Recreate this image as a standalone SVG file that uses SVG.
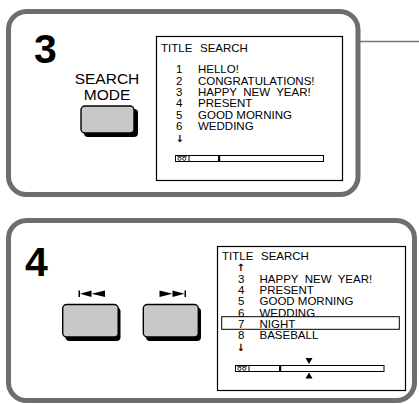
<svg xmlns="http://www.w3.org/2000/svg" width="419" height="404" viewBox="0 0 419 404">
<defs>
<style>
.panel{fill:#fff;stroke:#6e6e6e;stroke-width:5}
.screen{fill:#fff;stroke:#000;stroke-width:1.2}
.t{font-family:"Liberation Sans",Arial,sans-serif;font-size:11.5px;fill:#000}
.arr{font-family:"DejaVu Sans","Liberation Sans",sans-serif;font-size:10px;font-weight:bold;fill:#000}
.big{font-family:"Liberation Sans",Arial,sans-serif;font-weight:bold;font-size:41px;fill:#000}
.lbl{font-family:"Liberation Sans",Arial,sans-serif;font-size:15.5px;fill:#000}
.btn{fill:#c8c8c8;stroke:#000;stroke-width:1.4}
.shadow{fill:#000}
.bar{fill:#fff;stroke:#000;stroke-width:1}
.conn{stroke:#777;stroke-width:1.6;fill:none}
</style>
</defs>
<rect width="419" height="404" fill="#fff"/>
<g id="connectors">
<line class="conn" x1="360" y1="41.5" x2="419" y2="41.5"/>
</g>
<g id="panel3">
<rect class="panel" x="8.5" y="11.5" width="349.5" height="183" rx="18"/>
<text class="big" x="34" y="63">3</text>
<text class="lbl" x="107" y="84" text-anchor="middle">SEARCH</text>
<text class="lbl" x="107" y="100" text-anchor="middle">MODE</text>
<g id="search-mode-button">
<rect class="shadow" x="84" y="109" width="54" height="28" rx="4"/>
<rect class="btn" x="81" y="106" width="53" height="27" rx="4"/>
</g>
<g id="screen3">
<rect class="screen" x="156.5" y="36.5" width="186" height="144"/>
<text class="t" x="161" y="52">TITLE</text>
<text class="t" x="200" y="52">SEARCH</text>
<text class="t" x="176" y="73.3">1</text><text class="t" x="198" y="73.3">HELLO!</text>
<text class="t" x="176" y="84.7">2</text><text class="t" x="198" y="84.7">CONGRATULATIONS!</text>
<text class="t" x="176" y="96">3</text><text class="t" x="198" y="96" xml:space="preserve">HAPPY  NEW  YEAR!</text>
<text class="t" x="176" y="107.3">4</text><text class="t" x="198" y="107.3">PRESENT</text>
<text class="t" x="176" y="118.7">5</text><text class="t" x="198" y="118.7">GOOD MORNING</text>
<text class="t" x="176" y="130">6</text><text class="t" x="198" y="130">WEDDING</text>
<text class="arr" x="175.5" y="141.5">↓</text>
<rect class="bar" x="175.5" y="155.5" width="148" height="6"/>
<line x1="189" y1="155.5" x2="189" y2="161.5" stroke="#000" stroke-width="1"/>
<circle cx="179.5" cy="158.8" r="1.6" fill="none" stroke="#000" stroke-width="0.8"/>
<circle cx="184.3" cy="158.8" r="1.6" fill="none" stroke="#000" stroke-width="0.8"/>
<line x1="177" y1="156.6" x2="187" y2="156.6" stroke="#000" stroke-width="0.7"/>
<rect x="218" y="155.5" width="2.2" height="6" fill="#000"/>
</g>
</g>
<g id="panel4">
<rect class="panel" x="8.5" y="220.5" width="406" height="180" rx="18"/>
<text class="big" x="25" y="276">4</text>
<g id="prev-button">
<polygon points="78.5,290.5 80,290.5 80,297 78.5,297" fill="#000"/>
<polygon points="80,293.7 91.5,290.5 91.5,297" fill="#000"/>
<polygon points="91.5,293.7 105,290.5 105,297" fill="#000"/>
<rect class="shadow" x="65.5" y="307.5" width="55" height="33.5" rx="4"/>
<rect class="btn" x="62.7" y="304.5" width="55.5" height="32.5" rx="4"/>
</g>
<g id="next-button">
<polygon points="159.5,290.5 172.5,293.7 159.5,297" fill="#000"/>
<polygon points="172.5,290.5 184.5,293.7 172.5,297" fill="#000"/>
<polygon points="184.5,290.5 186,290.5 186,297 184.5,297" fill="#000"/>
<rect class="shadow" x="146" y="307.5" width="55" height="33.5" rx="4"/>
<rect class="btn" x="143.3" y="304.5" width="55" height="32.5" rx="4"/>
</g>
<g id="screen4">
<rect class="screen" x="217.5" y="246.5" width="188" height="144"/>
<text class="t" x="222" y="260">TITLE</text>
<text class="t" x="261" y="260">SEARCH</text>
<text class="arr" x="236.5" y="271">↑</text>
<text class="t" x="238" y="282.8">3</text><text class="t" x="259.5" y="282.8" xml:space="preserve">HAPPY  NEW  YEAR!</text>
<text class="t" x="238" y="294.1">4</text><text class="t" x="259.5" y="294.1">PRESENT</text>
<text class="t" x="238" y="305.4">5</text><text class="t" x="259.5" y="305.4">GOOD MORNING</text>
<text class="t" x="238" y="316.7">6</text><text class="t" x="259.5" y="316.7">WEDDING</text>
<rect x="221.7" y="316.7" width="177.6" height="12.6" fill="none" stroke="#000" stroke-width="1"/>
<text class="t" x="238" y="328">7</text><text class="t" x="259.5" y="328">NIGHT</text>
<text class="t" x="238" y="339.3">8</text><text class="t" x="259.5" y="339.3">BASEBALL</text>
<text class="arr" x="236.5" y="351">↓</text>
<rect class="bar" x="235.5" y="365.5" width="148.5" height="6"/>
<line x1="249" y1="365.5" x2="249" y2="371.5" stroke="#000" stroke-width="1"/>
<circle cx="239.5" cy="368.8" r="1.6" fill="none" stroke="#000" stroke-width="0.8"/>
<circle cx="244.3" cy="368.8" r="1.6" fill="none" stroke="#000" stroke-width="0.8"/>
<line x1="237" y1="366.6" x2="247" y2="366.6" stroke="#000" stroke-width="0.7"/>
<rect x="279" y="365.5" width="2.2" height="6" fill="#000"/>
<polygon points="305.5,358 312.5,358 309,364" fill="#000"/>
<polygon points="309,372.5 312.5,378.5 305.5,378.5" fill="#000"/>
</g>
</g>
</svg>
